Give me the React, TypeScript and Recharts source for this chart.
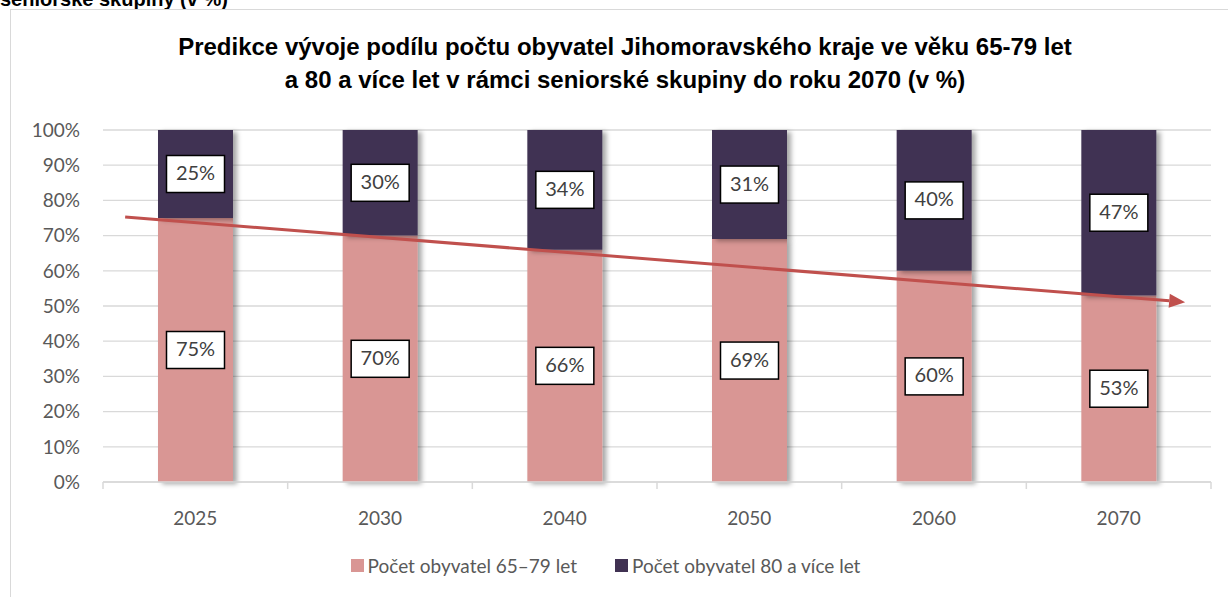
import React from 'react';
import {
  Bar,
  CartesianGrid,
  ComposedChart,
  LabelList,
  Legend,
  ReferenceLine,
  XAxis,
  YAxis,
} from 'recharts';

const years = ['2025', '2030', '2040', '2050', '2060', '2070'];
const share6579 = [75, 70, 66, 69, 60, 53];
const share80plus = [25, 30, 34, 31, 40, 47];
const yTicks = [0, 10, 20, 30, 40, 50, 60, 70, 80, 90, 100];
const boundaryTicks = [0, 1, 2, 3, 4, 5, 6];
// trend arrow, x in category units (0..6), y in %
const trendPoints = [
  { x: 0.12, y: 75.3 },
  { x: 5.86, y: 51.1 },
];

const PINK = '#D99694';
const PURPLE = '#403152';
const GREY = '#595959';
const AXIS_GREY = '#d9d9d9';
const LABEL_FONT = 'Lato, "Open Sans", sans-serif';

// slot = centre of the category band on the helper numeric axis
const data = years.map((year, i) => ({
  year,
  slot: i + 0.5,
  young: share6579[i],
  old: share80plus[i],
}));

function BoxLabel(props: any) {
  const { x, y, width, height, value } = props;
  const cx = x + width / 2;
  const cy = y + height / 2;
  const w = 58;
  const h = 37;
  return (
    <g>
      <rect x={cx - w / 2} y={cy - h / 2} width={w} height={h} fill="#fff" stroke="#000" strokeWidth={1.5} />
      <text
        x={cx}
        y={cy + 1}
        textAnchor="middle"
        dominantBaseline="middle"
        fill="#404040"
        fontSize={20}
        fontFamily={LABEL_FONT}
      >
        {`${value}%`}
      </text>
    </g>
  );
}

function TrendArrow(props: any) {
  const { x1, y1, x2, y2 } = props;
  const len = Math.hypot(x2 - x1, y2 - y1);
  const ux = (x2 - x1) / len;
  const uy = (y2 - y1) / len;
  const head = 16;
  const bx = x2 - ux * head;
  const by = y2 - uy * head;
  const half = 7;
  return (
    <g>
      <line x1={x1} y1={y1} x2={bx} y2={by} stroke="#C0504D" strokeWidth={3} />
      <path
        d={`M${x2},${y2} L${bx - uy * half},${by + ux * half} L${bx + uy * half},${by - ux * half} Z`}
        fill="#C0504D"
      />
    </g>
  );
}

function LegendContent() {
  const items = [
    { label: 'Počet obyvatel 65–79 let', color: PINK },
    { label: 'Počet obyvatel 80 a více let', color: PURPLE },
  ];
  return (
    <div style={{ display: 'flex', justifyContent: 'center', alignItems: 'center', height: 24 }}>
      {items.map((item, i) => (
        <div key={item.label} style={{ display: 'flex', alignItems: 'center', marginLeft: i === 0 ? 0 : 38 }}>
          <span style={{ width: 13, height: 13, background: item.color, display: 'inline-block', marginRight: 4 }} />
          <span style={{ fontFamily: LABEL_FONT, fontSize: 19, color: GREY }}>{item.label}</span>
        </div>
      ))}
    </div>
  );
}

export default function App() {
  return (
    <div style={{ position: 'absolute', left: 0, top: 0, width: 1228, height: 597, overflow: 'hidden', background: '#fff' }}>
      <div
        style={{
          position: 'absolute',
          left: 0,
          top: -12,
          fontFamily: 'Arial, "Liberation Sans", sans-serif',
          fontWeight: 'bold',
          fontSize: 20,
          color: '#000',
          whiteSpace: 'nowrap',
        }}
      >
        seniorské skupiny (v %)
      </div>
      <div
        style={{
          position: 'absolute',
          left: 10,
          top: 9,
          width: 1240,
          height: 620,
          border: '1.5px solid #d9d9d9',
          boxSizing: 'border-box',
        }}
      />
      <div
        style={{
          position: 'absolute',
          left: 0,
          top: 30,
          width: 1250,
          textAlign: 'center',
          fontFamily: 'Arial, "Liberation Sans", sans-serif',
          fontWeight: 'bold',
          fontSize: 24,
          lineHeight: '33px',
          color: '#000',
        }}
      >
        Predikce vývoje podílu počtu obyvatel Jihomoravského kraje ve věku 65-79 let
        <br />a 80 a více let v rámci seniorské skupiny do roku 2070 (v %)
      </div>
      <div style={{ position: 'absolute', left: 0, top: 0 }}>
        <ComposedChart width={1228} height={597} data={data} margin={{ top: 130, right: 17, bottom: 20, left: 0 }}>
          <defs>
            <filter id="barShadow" x="-20%" y="-5%" width="150%" height="115%">
              <feDropShadow dx={4} dy={2} stdDeviation={2.5} floodColor="#000" floodOpacity={0.35} />
            </filter>
          </defs>
          <CartesianGrid vertical={false} stroke={AXIS_GREY} strokeWidth={1.3} />
          <XAxis
            dataKey="year"
            axisLine={{ stroke: AXIS_GREY, strokeWidth: 1.5 }}
            tickLine={false}
            tickMargin={24}
            height={71}
            tick={{ fill: GREY, fontSize: 19, fontFamily: LABEL_FONT }}
          />
          <XAxis
            xAxisId="grid"
            dataKey="slot"
            type="number"
            domain={[0, 6]}
            allowDataOverflow
            hide
          />
          <YAxis
            domain={[0, 100]}
            ticks={yTicks}
            tickFormatter={(v) => `${v}%`}
            width={103}
            axisLine={false}
            tickLine={false}
            tickMargin={17}
            tick={{ fill: GREY, fontSize: 19, fontFamily: LABEL_FONT }}
          />
          <Legend verticalAlign="bottom" content={<LegendContent />} />
          <Bar dataKey="young" stackId="s" fill={PINK} barSize={75} filter="url(#barShadow)" isAnimationActive={false}>
            <LabelList dataKey="young" content={<BoxLabel />} />
          </Bar>
          <Bar dataKey="old" stackId="s" fill={PURPLE} barSize={75} filter="url(#barShadow)" isAnimationActive={false}>
            <LabelList dataKey="old" content={<BoxLabel />} />
          </Bar>
          {boundaryTicks.map((t) => (
            <ReferenceLine
              key={t}
              xAxisId="grid"
              segment={[
                { x: t, y: 0 },
                { x: t, y: -2 },
              ]}
              ifOverflow="visible"
              stroke={AXIS_GREY}
              strokeWidth={1.5}
            />
          ))}
          <ReferenceLine xAxisId="grid" segment={trendPoints} ifOverflow="visible" shape={<TrendArrow />} />
        </ComposedChart>
      </div>
    </div>
  );
}
